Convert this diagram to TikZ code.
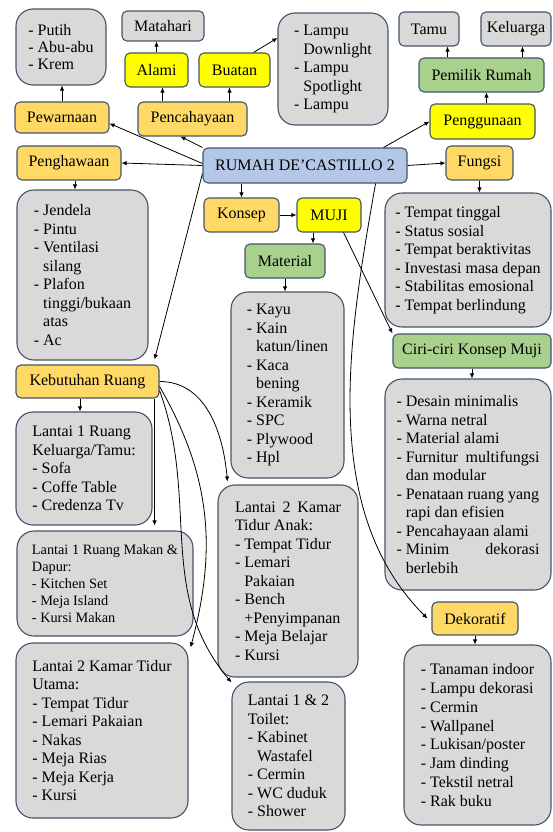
\documentclass[tikz,border=0pt]{standalone}
\usepackage{fontspec}
\setmainfont{Liberation Serif}
\usetikzlibrary{arrows.meta}
\definecolor{edge}{RGB}{68,84,106}
\definecolor{boxgray}{RGB}{217,217,217}
\definecolor{boxgold}{RGB}{255,217,102}
\definecolor{boxyel}{RGB}{255,255,0}
\definecolor{boxgreen}{RGB}{169,209,142}
\definecolor{boxblue}{RGB}{180,199,231}
\newcommand{\subln}{\phantom{- }}
\begin{document}
\begin{tikzpicture}[
            x=1pt,y=-1pt,
            >={Latex[length=5pt,width=4.5pt]},
            box/.style={rectangle,draw=edge,line width=1.1pt,rounded corners=5pt,inner sep=0pt,minimum height=34pt,font=\fontsize{16}{18.5}\selectfont},
            gold/.style={box,fill=boxgold},
            yel/.style={box,fill=boxyel},
            grn/.style={box,fill=boxgreen},
            gry/.style={box,fill=boxgray},
            listbox/.style={rectangle,draw=edge,line width=1.1pt,fill=boxgray,rounded corners=17pt,inner sep=0pt,align=left,font=\fontsize{16}{18.5}\selectfont},
            arr/.style={->,line width=0.8pt}
        ]
            \useasboundingbox (0,0) rectangle (552,832);

            % centre
            \node[box,fill=boxblue,minimum width=204pt,minimum height=35pt] (rumah) at (305,165.5) {RUMAH DE’CASTILLO 2};

            % left top branch
            \node[gold,minimum width=94pt,minimum height=31pt] (pewarnaan) at (62,117.5) {Pewarnaan};
            \node[listbox,minimum width=90pt,minimum height=76pt,font=\fontsize{16}{17}\selectfont] (putih) at (61,47) {- Putih\\- Abu-abu\\- Krem};
            \node[gold,minimum width=109pt] (pencahayaan) at (192.5,119) {Pencahayaan};
            \node[yel,minimum width=63pt] (alami) at (156.5,70) {Alami};
            \node[yel,minimum width=71pt] (buatan) at (234.5,70) {Buatan};
            \node[gry,minimum width=82pt,minimum height=30pt] (matahari) at (163,26) {Matahari};
            \node[listbox,minimum width=110pt,minimum height=112pt] (lampu) at (333,69) {- Lampu\\\subln Downlight\\- Lampu\\\subln Spotlight\\- Lampu};
            \node[gold,minimum width=104pt] (penghawaan) at (69,163) {Penghawaan};
            \node[listbox,minimum width=131pt,minimum height=170pt] (jendela) at (82.5,275) {- Jendela\\- Pintu\\- Ventilasi\\\subln silang\\- Plafon\\\subln tinggi/bukaan\\\subln atas\\- Ac};

            % right top branch
            \node[yel,minimum width=105pt,minimum height=35pt] (penggunaan) at (482.5,121.5) {Penggunaan};
            \node[grn,minimum width=125pt] (pemilik) at (481.5,75) {Pemilik Rumah};
            \node[gry,minimum width=60pt] (tamu) at (429,29) {Tamu};
            \node[gry,minimum width=70pt] (keluarga) at (516,29) {Keluarga};
            \node[gold,minimum width=67pt] (fungsi) at (479.5,163) {Fungsi};
            \node[listbox,minimum width=166pt,minimum height=134pt] (fungsilist) at (468,260) {- Tempat tinggal\\- Status sosial\\- Tempat beraktivitas\\- Investasi masa depan\\- Stabilitas emosional\\- Tempat berlindung};

            % konsep
            \node[gold,minimum width=75pt] (konsep) at (241.5,215) {Konsep};
            \node[yel,minimum width=64pt] (muji) at (329,215) {MUJI};
            \node[grn,minimum width=80pt] (material) at (285,261) {Material};
            \node[listbox,minimum width=113pt,minimum height=186pt] (kayu) at (287.5,385) {- Kayu\\- Kain\\\subln katun/linen\\- Kaca\\\subln bening\\- Keramik\\- SPC\\- Plywood\\- Hpl};
            \node[grn,minimum width=158pt] (ciri) at (472,351) {Ciri-ciri Konsep Muji};
            \node[listbox,minimum width=166pt,minimum height=211pt] (cirilist) at (468,484.5) {- Desain minimalis\\- Warna netral\\- Material alami\\\makebox[143pt][s]{\mbox{- Furnitur} multifungsi}\\\subln dan modular\\- Penataan ruang yang\\\subln rapi dan efisien\\- Pencahayaan alami\\\makebox[143pt][s]{\mbox{- Minim} dekorasi}\\\subln berlebih};
            \node[gold,minimum width=86pt,minimum height=33pt] (dekoratif) at (475,618.5) {Dekoratif};
            \node[listbox,minimum width=147pt,minimum height=180pt,font=\fontsize{16}{18.8}\selectfont] (dekolist) at (477.5,735) {- Tanaman indoor\\- Lampu dekorasi\\- Cermin\\- Wallpanel\\- Lukisan/poster\\- Jam dinding\\- Tekstil netral\\- Rak buku};

            % kebutuhan ruang
            \node[gold,minimum width=143pt,minimum height=33pt] (kebutuhan) at (87.5,381.5) {Kebutuhan Ruang};
            \node[listbox,minimum width=136pt,minimum height=113pt] (lt1tamu) at (84,468.5) {Lantai 1 Ruang\\Keluarga/Tamu:\\- Sofa\\- Coffe Table\\- Credenza Tv};
            \node[listbox,minimum width=176pt,minimum height=105pt,font=\fontsize{14.3}{17}\selectfont] (makan) at (105,583.5) {Lantai 1 Ruang Makan \&\\Dapur:\\- Kitchen Set\\- Meja Island\\- Kursi Makan};
            \node[listbox,minimum width=140pt,minimum height=192pt] (anak) at (288,581) {\makebox[106pt][s]{Lantai 2 Kamar}\\Tidur Anak:\\- Tempat Tidur\\- Lemari\\\subln Pakaian\\- Bench\\\subln +Penyimpanan\\- Meja Belajar\\- Kursi};
            \node[listbox,minimum width=172pt,minimum height=175pt] (utama) at (102,730.5) {Lantai 2 Kamar Tidur\\Utama:\\- Tempat Tidur\\- Lemari Pakaian\\- Nakas\\- Meja Rias\\- Meja Kerja\\- Kursi};
            \node[listbox,minimum width=113pt,minimum height=148pt] (toilet) at (288.5,756) {Lantai 1 \& 2\\Toilet:\\- Kabinet\\\subln Wastafel\\- Cermin\\- WC duduk\\- Shower};

            % connectors
            \draw[arr] ([yshift=2pt]rumah.west) -- ([yshift=-6pt]pewarnaan.east);
            \draw[arr] (rumah.north west) -- ([xshift=-12pt]pencahayaan.south);
            \draw[arr] (rumah.west) -- (penghawaan.east);
            \draw[arr] ([yshift=-8pt]rumah.west) -- ([xshift=-5pt,yshift=5pt]kebutuhan.north east);
            \draw[arr] ([xshift=-24pt]rumah.north east) -- (penggunaan.west);
            \draw[arr] (rumah.east) -- (fungsi.west);
            \draw[arr] (konsep.north |- rumah.south) -- (konsep.north);
            \draw[arr] ([xshift=-32pt]rumah.south east) to[out=-100,in=135,looseness=0.9] ([xshift=-4pt]dekoratif.west);

            \draw[arr] (pewarnaan.north) -- (pewarnaan.north |- putih.south);
            \draw[arr] ([xshift=6pt]alami.south |- pencahayaan.north) -- ([xshift=6pt]alami.south);
            \draw[arr] ([xshift=-5pt]buatan.south |- pencahayaan.north) -- ([xshift=-5pt]buatan.south);
            \draw[arr] (alami.north) -- (alami.north |- matahari.south);
            \draw[arr] ([xshift=-17pt]buatan.north east) -- ([yshift=31pt]lampu.west);
            \draw[arr] ([xshift=6pt]penghawaan.south) -- ([xshift=6pt]penghawaan.south |- jendela.north);

            \draw[arr] ([xshift=4pt]penggunaan.north) -- ([xshift=4pt]penggunaan.north |- pemilik.south);
            \draw[arr] ([xshift=-34pt]pemilik.north) -- ([xshift=-34pt]pemilik.north |- tamu.south);
            \draw[arr] ([xshift=41pt]pemilik.north) -- ([xshift=41pt]pemilik.north |- keluarga.south);
            \draw[arr] (fungsi.south) -- (fungsi.south |- fungsilist.north);

            \draw[arr] (konsep) -- (muji);
            \draw[arr] ([xshift=-16pt]muji.south) -- ([xshift=-16pt]muji.south |- material.north);
            \draw[arr] (material.south) -- (material.south |- kayu.north);
            \draw[arr] ([xshift=-18pt]muji.south east) -- (ciri.north west);
            \draw[arr] (ciri.south) -- (ciri.south |- cirilist.north);
            \draw[arr] (dekoratif.south) -- (dekoratif.south |- dekolist.north);

            \draw[arr] ([xshift=-4pt]lt1tamu.north |- kebutuhan.south) -- ([xshift=-4pt]lt1tamu.north);
            \draw[arr,shorten >=5pt] ([xshift=-5pt]kebutuhan.south east) -- ([xshift=-5pt]kebutuhan.south east |- makan.north);
            \draw[arr] (kebutuhan.east) to[out=0,in=95] ([xshift=10pt,yshift=3pt]anak.north west);
            \draw[arr] ([yshift=-5pt]kebutuhan.east) to[out=-60,in=75] ([xshift=2pt,yshift=-5pt]utama.north east);
            \draw[arr] ([yshift=-9pt]kebutuhan.east) to[out=-70,in=130] ([yshift=-1pt]toilet.north west);
        \end{tikzpicture}
\end{document}
